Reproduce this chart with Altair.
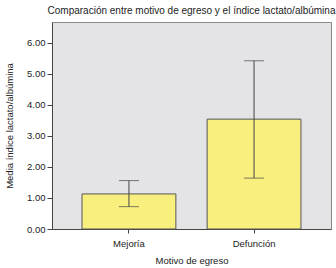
import altair as alt
import pandas as pd

categories = ["Mejoría", "Defunción"]
means = [1.13, 3.54]
lower = [0.72, 1.64]
upper = [1.56, 5.42]
yticks = [0, 1, 2, 3, 4, 5, 6]

df = pd.DataFrame({"cat": categories, "mean": means, "lo": lower, "hi": upper})

FONT = "Liberation Sans"
xenc = alt.X("cat:N", sort=categories, title="Motivo de egreso",
             scale=alt.Scale(paddingInner=0.25, paddingOuter=0.24),
             axis=alt.Axis(labelAngle=0, tickSize=4, labelPadding=5, titlePadding=8))
yscale = alt.Scale(domain=[0, 6.67], nice=False)
yaxis = alt.Axis(values=yticks, format=".2f", grid=False, labelOverlap=False,
                 tickSize=5, labelPadding=2, titlePadding=12)
ytitle = "Media índice lactato/albúmina"

base = alt.Chart(df)
bars = base.mark_bar(color="#f9ef7e", stroke="#555555", strokeWidth=1).encode(
    x=xenc, y=alt.Y("mean:Q", scale=yscale, title=ytitle, axis=yaxis))
rules = base.mark_rule(color="#444444", strokeWidth=1).encode(
    x=xenc, y=alt.Y("lo:Q", scale=yscale, title=ytitle, axis=yaxis), y2="hi:Q")
caps_hi = base.mark_tick(color="#444444", thickness=1, size=20).encode(
    x=xenc, y=alt.Y("hi:Q", scale=yscale, title=ytitle, axis=yaxis))
caps_lo = base.mark_tick(color="#444444", thickness=1, size=20).encode(
    x=xenc, y=alt.Y("lo:Q", scale=yscale, title=ytitle, axis=yaxis))

chart = alt.layer(bars, rules, caps_hi, caps_lo).properties(
    width=279, height=207,
    title=alt.TitleParams("Comparación entre motivo de egreso y el índice lactato/albúmina",
                          fontSize=10, fontWeight="normal", font=FONT, color="#222", offset=6),
    padding={"left": 52, "top": 22, "right": 5, "bottom": 39},
    autosize=alt.AutoSizeParams(type="none"),
    background="white",
).configure_view(fill="#e4e4e6", stroke="#8a8a8a", strokeWidth=1
).configure_axis(
    labelOverlap=False, labelFontSize=9.5, titleFontSize=9.5, titleFontWeight="normal",
    labelColor="#222", titleColor="#222", labelFont=FONT, titleFont=FONT,
    domainColor="#444", tickColor="#444", grid=False,
)

chart.save("out.html", embed_options={"renderer": "svg", "actions": False})
